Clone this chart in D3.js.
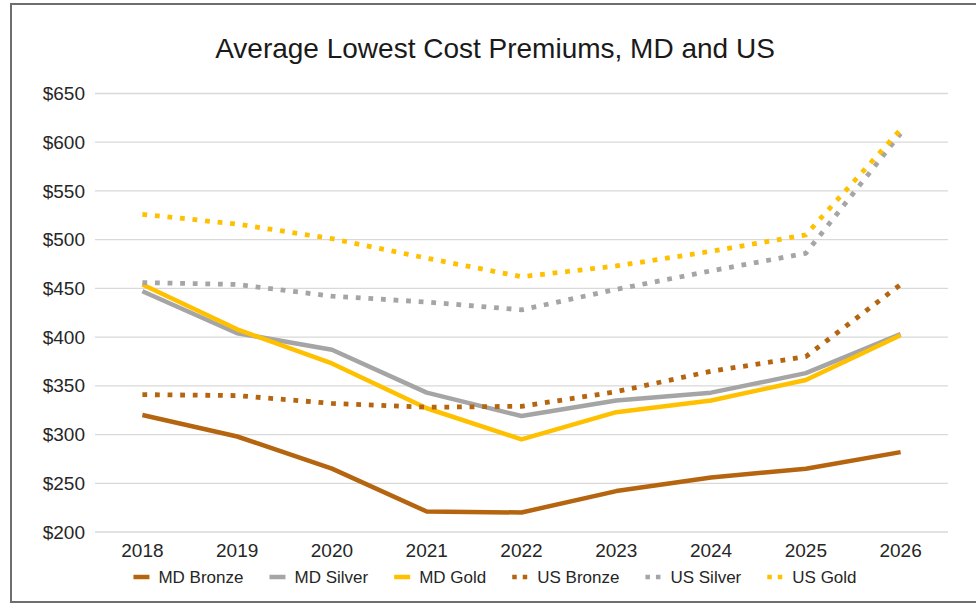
<!DOCTYPE html>
<html>
<head>
<meta charset="utf-8">
<script src="https://cdn.jsdelivr.net/npm/d3@7"></script>
<style>
  html, body { margin: 0; padding: 0; background: #fff; }
  svg { display: block; font-family: "Liberation Sans", Arial, sans-serif; }
</style>
</head>
<body>
<svg id="chart" width="976" height="604"></svg>
<script>
// ---- Data ----
const years = ["2018", "2019", "2020", "2021", "2022", "2023", "2024", "2025", "2026"];
const mdBronze = [320, 298, 265, 221, 220, 242, 256, 265, 282];
const mdSilver = [447, 404, 387, 343, 319, 335, 343, 363, 403];
const mdGold   = [454, 408, 373, 327, 295, 323, 335, 356, 402];
const usBronze = [341, 340, 332, 328, 329, 344, 365, 380, 454];
const usSilver = [456, 454, 442, 436, 428, 449, 468, 486, 609];
const usGold   = [526, 516, 501, 481, 462, 473, 488, 505, 613];
const yTicks = [200, 250, 300, 350, 400, 450, 500, 550, 600, 650];
const seriesNames = ["MD Bronze", "MD Silver", "MD Gold", "US Bronze", "US Silver", "US Gold"];
const title = "Average Lowest Cost Premiums, MD and US";

// ---- Styles ----
const BRONZE = "#B5650F", SILVER = "#A5A5A5", GOLD = "#FFC000";
const series = [
  { name: seriesNames[0], values: mdBronze, color: BRONZE, dotted: false },
  { name: seriesNames[1], values: mdSilver, color: SILVER, dotted: false },
  { name: seriesNames[2], values: mdGold,   color: GOLD,   dotted: false },
  { name: seriesNames[3], values: usBronze, color: BRONZE, dotted: true },
  { name: seriesNames[4], values: usSilver, color: SILVER, dotted: true },
  { name: seriesNames[5], values: usGold,   color: GOLD,   dotted: true }
];

const svg = d3.select("#chart");
const W = 976, H = 604;
const plot = { left: 95, right: 948, top: 93.5, bottom: 532 };

// chart border
svg.append("rect")
  .attr("x", 11).attr("y", 4).attr("width", 975).attr("height", 598)
  .attr("fill", "#fff").attr("stroke", "#6e6e6e").attr("stroke-width", 2);

// title
svg.append("text")
  .attr("x", 495).attr("y", 58)
  .attr("text-anchor", "middle")
  .attr("font-size", 28)
  .attr("fill", "#1a1a1a")
  .text(title);

const x = d3.scaleBand().domain(years).range([plot.left, plot.right]);
const y = d3.scaleLinear().domain([200, 650]).range([plot.bottom, plot.top]);

// gridlines
svg.append("g")
  .selectAll("line").data(yTicks).join("line")
  .attr("x1", plot.left).attr("x2", plot.right)
  .attr("y1", d => y(d)).attr("y2", d => y(d))
  .attr("stroke", "#d9d9d9").attr("stroke-width", 1.3);

// y axis labels
const yAxis = d3.axisLeft(y).tickValues(yTicks).tickFormat(d => "$" + d).tickSize(0).tickPadding(0);
const gy = svg.append("g").attr("transform", `translate(${plot.left - 10},0)`).call(yAxis);
gy.select(".domain").remove();
gy.selectAll("text").attr("font-size", 19).attr("fill", "#262626")
  .attr("font-family", "'Liberation Sans', Arial, sans-serif");

// x axis labels
const xAxis = d3.axisBottom(x).tickSize(0).tickPadding(0);
const gx = svg.append("g").attr("transform", `translate(0,${plot.bottom + 11})`).call(xAxis);
gx.select(".domain").remove();
gx.selectAll("text").attr("font-size", 19).attr("fill", "#262626")
  .attr("font-family", "'Liberation Sans', Arial, sans-serif");

// lines
const line = d3.line()
  .x((d, i) => x(years[i]) + x.bandwidth() / 2)
  .y(d => y(d));

svg.append("g").selectAll("path").data(series).join("path")
  .attr("d", d => line(d.values))
  .attr("fill", "none")
  .attr("stroke", d => d.color)
  .attr("stroke-width", d => d.dotted ? 4.8 : 4.5)
  .attr("stroke-dasharray", d => d.dotted ? "4.8,7.8" : null)
  .attr("stroke-linejoin", "round")
  .attr("stroke-linecap", "butt");

// legend
const legendY = 577;
const legend = svg.append("g").attr("font-size", 17).attr("fill", "#262626");
const swW = 16, swGap = 9, itemGap = 26;
const items = legend.selectAll("g").data(series).join("g");
items.append("text").attr("x", swW + swGap).attr("y", 0).attr("dy", "0.35em").text(d => d.name);
const widths = [];
items.each(function () { widths.push(d3.select(this).select("text").node().getComputedTextLength()); });
const total = d3.sum(widths) + series.length * (swW + swGap) + (series.length - 1) * itemGap;
let cx = 495 - total / 2;
items.each(function (d, i) {
  d3.select(this).attr("transform", `translate(${cx},${legendY})`);
  cx += swW + swGap + widths[i] + itemGap;
});
items.append("line")
  .attr("x1", 0).attr("x2", swW).attr("y1", 0).attr("y2", 0)
  .attr("stroke", d => d.color).attr("stroke-width", 4.5)
  .attr("stroke-dasharray", d => d.dotted ? "4.5,6" : null);
</script>
</body>
</html>
